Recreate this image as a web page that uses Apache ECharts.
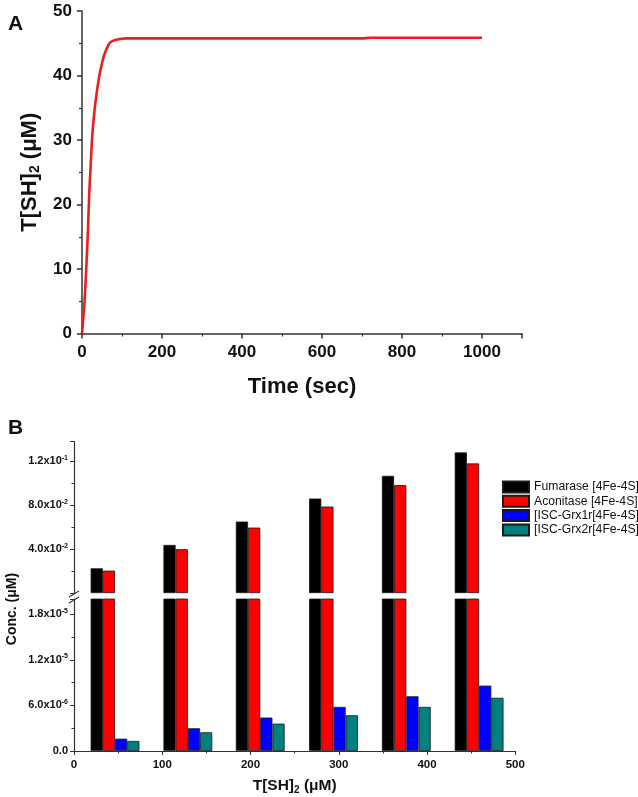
<!DOCTYPE html>
<html>
<head>
<meta charset="utf-8">
<script src="https://cdn.jsdelivr.net/npm/echarts@6/dist/echarts.min.js"></script>
<style>
html,body{margin:0;padding:0;background:#fff;}
#chart{width:638px;height:797px;}
</style>
</head>
<body>
<div id="chart"></div>
<script>
// ---- Panel A data ----
const timeSec = [0, 3, 6, 9, 12, 15, 18, 21, 25, 30, 35, 40, 45, 50, 55, 60, 65, 70, 80, 90, 100, 110, 150, 300, 500, 700, 720, 850, 1000];
const tshUM   = [0, 2.2, 4.6, 8, 11.8, 16.1, 21.6, 25.2, 30, 33.8, 36.5, 38.7, 40.5, 41.9, 43.1, 43.9, 44.6, 45.1, 45.45, 45.6, 45.7, 45.75, 45.75, 45.75, 45.75, 45.75, 45.85, 45.85, 45.85];
const xTicksA = [0, 200, 400, 600, 800, 1000];
const yTicksA = [0, 10, 20, 30, 40, 50];

// ---- Panel B data ----
const tshB      = [46.5, 129, 211, 294, 376.5, 459];
const seriesNames = ['Fumarase [4Fe-4S]', 'Aconitase [4Fe-4S]', '[ISC-Grx1r[4Fe-4S]]', '[ISC-Grx2r[4Fe-4S]]'];
const fumarase  = [0.0226, 0.0439, 0.0652, 0.0862, 0.1069, 0.1282];
const aconitase = [0.0205, 0.0400, 0.0597, 0.0789, 0.0984, 0.1182];
const grx1      = [1.62e-6, 2.99e-6, 4.4e-6, 5.8e-6, 7.2e-6, 8.6e-6];
const grx2      = [1.32e-6, 2.46e-6, 3.6e-6, 4.7e-6, 5.8e-6, 7.0e-6];
const colorsB   = ['#000000', '#ff0000', '#0000ff', '#008080'];

const FONT = '"Liberation Sans", Arial, sans-serif';
const AXC = '#333333';

const chart = echarts.init(document.getElementById('chart'), null, {renderer: 'canvas'});

function pairs(xs, ys) { return xs.map((x, i) => [x, ys[i]]); }
function blanks(xs) { return xs.map(x => [x, '-']); }

const supRich = {
  m: {fontSize: 11, fontWeight: 'bold', fontFamily: FONT, color: '#111', lineHeight: 14},
  e: {fontSize: 7, fontWeight: 'bold', fontFamily: FONT, color: '#111', lineHeight: 8, verticalAlign: 'top'}
};

function fmtUpper(v) {
  if (v < 1e-9) return '';
  const k = Math.round(v / 0.04);
  if (Math.abs(v - k * 0.04) > 1e-6) return '';
  if (v >= 0.1) return '{m|' + (v * 10).toFixed(1) + 'x10}{e|-1}';
  return '{m|' + (v * 100).toFixed(1) + 'x10}{e|-2}';
}
function fmtLower(v) {
  if (v < 1e-12) return '{m|0.0}';
  const k = Math.round(v / 6e-6);
  if (Math.abs(v - k * 6e-6) > 1e-9) return '';
  if (v >= 1e-5) return '{m|' + (v * 1e5).toFixed(1) + 'x10}{e|-5}';
  return '{m|' + (v * 1e6).toFixed(1) + 'x10}{e|-6}';
}

const axisA = {
  axisLine: {show: true, onZero: false, lineStyle: {color: AXC, width: 1.5}},
  axisTick: {show: true, inside: false, length: 5, lineStyle: {color: AXC, width: 1.5}},
  minorTick: {show: true, splitNumber: 2, length: 3, lineStyle: {color: AXC, width: 1.2}},
  splitLine: {show: false},
  minorSplitLine: {show: false},
  axisLabel: {fontSize: 17, fontWeight: 'bold', fontFamily: FONT, color: '#111'}
};
const axisB = {
  axisLine: {show: true, onZero: false, lineStyle: {color: AXC, width: 1.2}},
  axisTick: {show: true, inside: false, length: 4, lineStyle: {color: AXC, width: 1}},
  minorTick: {show: true, splitNumber: 2, length: 2.5, lineStyle: {color: AXC, width: 1}},
  splitLine: {show: false},
  minorSplitLine: {show: false}
};

const barBase = {type: 'bar', barWidth: 12.2, barGap: '0%'};
function bar(i, axisIdx, data) {
  return Object.assign({}, barBase, {name: seriesNames[i], xAxisIndex: axisIdx, yAxisIndex: axisIdx, clip: true, data: data,
    itemStyle: {color: colorsB[i], borderColor: '#1a1a1a', borderWidth: 0.8}});
}

const series = [
  {type: 'line', xAxisIndex: 0, yAxisIndex: 0, data: pairs(timeSec, tshUM), smooth: 0.25,
   showSymbol: false, lineStyle: {color: '#ee1c1c', width: 2.6}, itemStyle: {color: '#ee1c1c'}},
  // upper (broken-axis top segment)
  bar(0, 1, pairs(tshB, fumarase)),
  bar(1, 1, pairs(tshB, aconitase)),
  bar(2, 1, blanks(tshB)),
  bar(3, 1, blanks(tshB)),
  // lower segment
  bar(0, 2, pairs(tshB, fumarase)),
  bar(1, 2, pairs(tshB, aconitase)),
  bar(2, 2, pairs(tshB, grx1)),
  bar(3, 2, pairs(tshB, grx2))
];

const option = {
  animation: false,
  backgroundColor: '#ffffff',
  grid: [
    {left: 82, top: 11, width: 440, height: 322.5},
    {left: 74, top: 441.7, width: 441.3, height: 151.4},
    {left: 74, top: 599, width: 441.3, height: 152}
  ],
  xAxis: [
    Object.assign({}, axisA, {type: 'value', gridIndex: 0, min: 0, max: 1100, interval: 200,
      axisLabel: Object.assign({}, axisA.axisLabel, {margin: 10, formatter: v => xTicksA.includes(v) ? String(v) : ''}),
      name: 'Time (sec)', nameLocation: 'middle', nameGap: 42,
      nameTextStyle: {fontSize: 22, fontWeight: 'bold', fontFamily: FONT, color: '#111'}}),
    {type: 'value', gridIndex: 1, min: 0, max: 500, show: false},
    Object.assign({}, axisB, {type: 'value', gridIndex: 2, min: 0, max: 500, interval: 100,
      axisLabel: {fontSize: 11.5, fontWeight: 'bold', fontFamily: FONT, color: '#111', margin: 8},
      name: '{a|T[SH]}{s|2}{a| (μM)}', nameLocation: 'middle', nameGap: 26,
      nameTextStyle: {rich: {
        a: {fontSize: 15.5, fontWeight: 'bold', fontFamily: FONT, color: '#111', lineHeight: 18},
        s: {fontSize: 10, fontWeight: 'bold', fontFamily: FONT, color: '#111', lineHeight: 10, verticalAlign: 'bottom'}
      }}})
  ],
  yAxis: [
    Object.assign({}, axisA, {type: 'value', gridIndex: 0, min: 0, max: 50, interval: 10,
      axisLabel: Object.assign({}, axisA.axisLabel, {margin: 10, formatter: v => yTicksA.includes(v) ? String(v) : ''}),
      name: '{a|T[SH]}{s|2}{a| (μM)}', nameLocation: 'middle', nameGap: 40, nameRotate: 90,
      nameTextStyle: {rich: {
        a: {fontSize: 22, fontWeight: 'bold', fontFamily: FONT, color: '#111', lineHeight: 25},
        s: {fontSize: 14, fontWeight: 'bold', fontFamily: FONT, color: '#111', lineHeight: 14, verticalAlign: 'bottom'}
      }}}),
    Object.assign({}, axisB, {type: 'value', gridIndex: 1, min: 0, max: 0.138, interval: 0.04,
      axisLabel: {margin: 6, formatter: fmtUpper, rich: supRich}}),
    Object.assign({}, axisB, {type: 'value', gridIndex: 2, min: 0, max: 2e-5, interval: 6e-6,
      axisLabel: {margin: 6, formatter: fmtLower, rich: supRich}})
  ],
  legend: {
    orient: 'vertical', left: 497, top: 475, itemWidth: 26, itemHeight: 11, itemGap: 0.3,
    icon: 'rect', data: seriesNames,
    textStyle: {fontSize: 12.2, fontFamily: FONT, color: '#111', lineHeight: 14}
  },
  graphic: [
    {type: 'text', left: 8, top: 14, style: {text: 'A', font: 'bold 21px ' + FONT, fill: '#111'}},
    {type: 'text', left: 8, top: 418, style: {text: 'B', font: 'bold 21px ' + FONT, fill: '#111'}},
    {type: 'text', x: 12, y: 609, rotation: Math.PI / 2,
     style: {text: 'Conc. (μM)', font: 'bold 14px ' + FONT, fill: '#111', align: 'center', verticalAlign: 'middle'}},
    {type: 'line', shape: {x1: 69, y1: 597, x2: 79, y2: 591}, style: {stroke: AXC, lineWidth: 1.1}},
    {type: 'line', shape: {x1: 69, y1: 603, x2: 79, y2: 597}, style: {stroke: AXC, lineWidth: 1.1}}
  ],
  series: series
};
chart.setOption(option);
</script>
</body>
</html>
